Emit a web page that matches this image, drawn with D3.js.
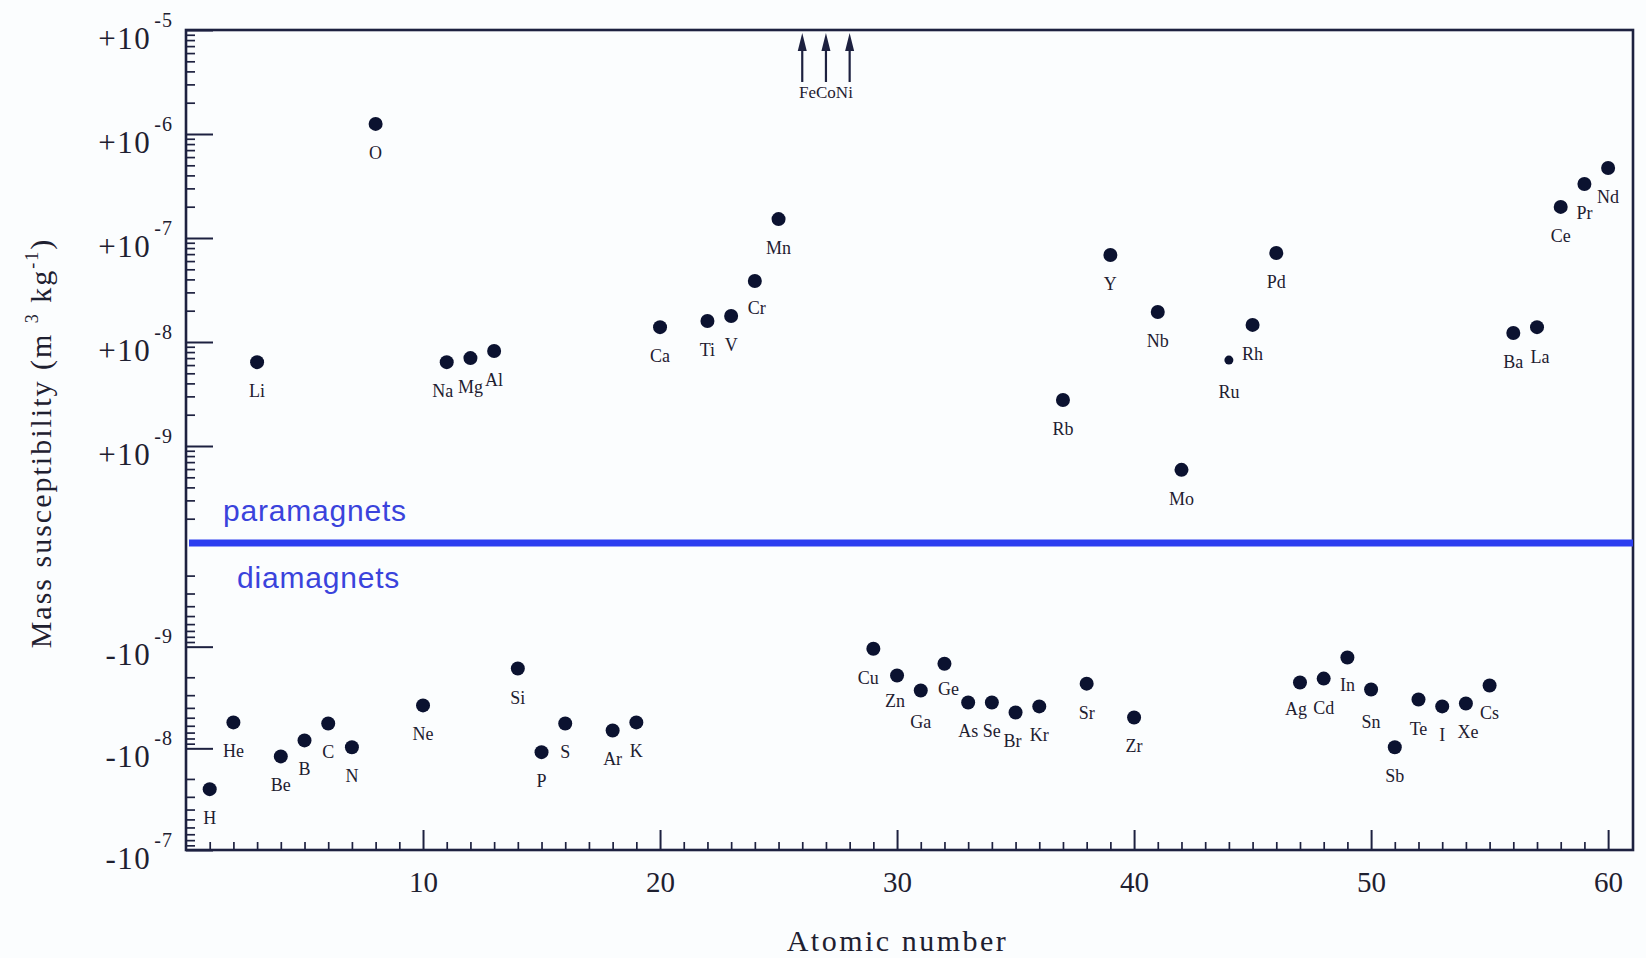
<!DOCTYPE html>
<html><head><meta charset="utf-8">
<script src="https://cdn.jsdelivr.net/npm/d3@7"></script>
<style>
html,body{margin:0;padding:0;background:#fbfdfe;}
svg{display:block;}
</style></head>
<body>
<svg id="chart" width="1646" height="958"></svg>
<script>
// ---------------- data ----------------
const paraSymbols = ["Li","O","Na","Mg","Al","Ca","Ti","V","Cr","Mn","Rb","Y","Nb","Mo","Ru","Rh","Pd","Ba","La","Ce","Pr","Nd"];
const paraZ       = [3,8,11,12,13,20,22,23,24,25,37,39,41,42,44,45,46,56,57,58,59,60];
const paraChi     = [6.4e-9,1.25e-6,6.4e-9,7.0e-9,8.2e-9,1.39e-8,1.59e-8,1.78e-8,3.86e-8,1.52e-7,2.77e-9,6.87e-8,1.94e-8,5.9e-10,6.7e-9,1.46e-8,7.18e-8,1.22e-8,1.39e-8,1.99e-7,3.30e-7,4.71e-7];

const diaSymbols = ["H","He","Be","B","C","N","Ne","Si","P","S","Ar","K","Cu","Zn","Ga","Ge","As","Se","Br","Kr","Sr","Zr","Ag","Cd","In","Sn","Sb","Te","I","Xe","Cs"];
const diaZ       = [1,2,4,5,6,7,10,14,15,16,18,19,29,30,31,32,33,34,35,36,38,40,47,48,49,50,51,52,53,54,55];
const diaChi     = [-2.52e-8,-5.56e-9,-1.20e-8,-8.36e-9,-5.69e-9,-9.77e-9,-3.78e-9,-1.64e-9,-1.09e-8,-5.69e-9,-6.67e-9,-5.56e-9,
                    -1.05e-9,-1.92e-9,-2.70e-9,-1.47e-9,-3.54e-9,-3.54e-9,-4.44e-9,-3.87e-9,-2.31e-9,-4.97e-9,
                    -2.25e-9,-2.06e-9,-1.28e-9,-2.64e-9,-9.77e-9,-3.31e-9,-3.87e-9,-3.62e-9,-2.41e-9];

const ferroSymbols = ["Fe","Co","Ni"];
const ferroZ       = [26,27,28];

const xTickValues   = [10,20,30,40,50,60];
const posTickValues = [1e-9,1e-8,1e-7,1e-6,1e-5];
const negTickValues = [1e-9,1e-8,1e-7];   // magnitudes of the negative ticks
const regionLabels  = ["paramagnets","diamagnets"];
const xTitle = "Atomic number";

// ---------------- layout / style ----------------
const L = 186, R = 1633, T = 30, B = 850;
const ink = "#1d2140", textColor = "#1e2030", dotColor = "#0b1230";
const blueLine = "#2c3ef0", blueText = "#3a43dc";
const serif = "'Liberation Serif','Times New Roman',serif";
const sans = "'Liberation Sans',Arial,sans-serif";

const svg = d3.select("#chart");

const x = d3.scaleLinear().domain([0, 61.05]).range([L, R]);
const yPos = d3.scaleLog().domain([1e-10, 1e-5]).range([550, T]);
const yNeg = d3.scaleLog().domain([1e-10, 1e-7]).range([545, B]);
const y = v => v > 0 ? yPos(v) : yNeg(-v);

const minorOf = (lo, hi) => { const a = []; for (let e = lo; e < hi; e++) for (let k = 2; k <= 9; k++) a.push(k * Math.pow(10, e)); return a; };

// frame
svg.append("rect").attr("x", L).attr("y", T).attr("width", R - L).attr("height", B - T)
  .attr("fill", "none").attr("stroke", ink).attr("stroke-width", 2.6);

function styleTicks(g, w) {
  g.select(".domain").remove();
  g.selectAll(".tick line").attr("stroke", ink).attr("stroke-width", w);
}
function expLabels(g, sign) {
  g.selectAll(".tick text").each(function (d) {
    const e = Math.round(Math.log10(d));
    const t = d3.select(this).text(null).attr("dy", null).attr("x", -13).attr("y", 18)
      .attr("fill", textColor).attr("text-anchor", "end")
      .style("font-family", serif).style("font-size", "31px").style("letter-spacing", "1.5px");
    t.append("tspan").text(sign + "10");
    t.append("tspan").attr("dx", 3).attr("dy", -22).style("font-size", "20px").style("letter-spacing", "1px").text(String(e));
  });
}

// upper (positive) y axis
svg.append("g").attr("transform", `translate(${L},0)`)
  .call(d3.axisLeft(yPos).tickValues(minorOf(-10, -5)).tickSize(-9).tickFormat(""))
  .call(g => styleTicks(g, 1.7));
svg.append("g").attr("transform", `translate(${L},0)`)
  .call(d3.axisLeft(yPos).tickValues(posTickValues).tickSize(-27).tickPadding(13))
  .call(g => styleTicks(g, 2))
  .call(g => expLabels(g, "+"));

// lower (negative) y axis
svg.append("g").attr("transform", `translate(${L},0)`)
  .call(d3.axisLeft(yNeg).tickValues(minorOf(-10, -7)).tickSize(-9).tickFormat(""))
  .call(g => styleTicks(g, 1.7));
svg.append("g").attr("transform", `translate(${L},0)`)
  .call(d3.axisLeft(yNeg).tickValues(negTickValues).tickSize(-27).tickPadding(13))
  .call(g => styleTicks(g, 2))
  .call(g => expLabels(g, "-"));

// x axis
svg.append("g").attr("transform", `translate(0,${B})`)
  .call(d3.axisBottom(x).tickValues(d3.range(1, 61).filter(d => d % 10)).tickSize(-8).tickFormat(""))
  .call(g => styleTicks(g, 1.7));
svg.append("g").attr("transform", `translate(0,${B})`)
  .call(d3.axisBottom(x).tickValues(xTickValues).tickSize(-20).tickPadding(21).tickFormat(d3.format("d")))
  .call(g => styleTicks(g, 2))
  .call(g => g.selectAll(".tick text").attr("fill", textColor)
    .style("font-family", serif).style("font-size", "29px"));

// separator line and region labels
const sepY = yNeg(1e-10) - 2;
svg.append("line").attr("x1", L + 3).attr("x2", R).attr("y1", sepY).attr("y2", sepY)
  .attr("stroke", blueLine).attr("stroke-width", 7);
svg.append("text").attr("x", L + 37).attr("y", sepY - 22).text(regionLabels[0])
  .attr("fill", blueText).style("font-family", sans).style("font-size", "30px").style("letter-spacing", "0.8px");
svg.append("text").attr("x", L + 51).attr("y", sepY + 45).text(regionLabels[1])
  .attr("fill", blueText).style("font-family", sans).style("font-size", "30px").style("letter-spacing", "0.8px");

// points
const pts = paraSymbols.map((s, i) => ({ s, z: paraZ[i], v: paraChi[i] }))
  .concat(diaSymbols.map((s, i) => ({ s, z: diaZ[i], v: diaChi[i] })));
const smallDot = { Ru: 4.5 };
svg.append("g").selectAll("circle").data(pts).join("circle")
  .attr("cx", d => x(d.z)).attr("cy", d => y(d.v)).attr("r", d => smallDot[d.s] || 7)
  .attr("fill", dotColor);

const labelNudge = { Na: [-4, 0], Cr: [2, -2], Cu: [-5, 0], Zn: [-2, -3], Ga: [0, 2], Ge: [4, -4], Br: [-3, 0],
  Ru: [0, 3], La: [3, 1], Ag: [-4, -2], In: [0, -2], Sn: [0, 3], Xe: [2, 0], Cs: [0, -2] };
svg.append("g").selectAll("text").data(pts).join("text")
  .attr("x", d => x(d.z) + (labelNudge[d.s] ? labelNudge[d.s][0] : 0))
  .attr("y", d => y(d.v) + 35 + (labelNudge[d.s] ? labelNudge[d.s][1] : 0))
  .attr("text-anchor", "middle").attr("fill", textColor)
  .style("font-family", serif).style("font-size", "18px")
  .text(d => d.s);

// ferromagnets: off-scale arrows
const fg = svg.append("g");
ferroZ.forEach(z => {
  const cx = x(z);
  fg.append("line").attr("x1", cx).attr("x2", cx).attr("y1", T + 52).attr("y2", T + 18)
    .attr("stroke", ink).attr("stroke-width", 2.2);
  fg.append("path").attr("d", `M${cx},${T + 3} L${cx - 4.5},${T + 21} L${cx + 4.5},${T + 21} Z`).attr("fill", ink);
});
fg.append("text").attr("x", x(d3.mean(ferroZ))).attr("y", T + 68).attr("text-anchor", "middle")
  .attr("fill", textColor).style("font-family", serif).style("font-size", "17px")
  .text(ferroSymbols.join(""));

// axis titles
svg.append("text").attr("x", (L + R) / 2 - 12).attr("y", 951).attr("text-anchor", "middle")
  .attr("fill", textColor).style("font-family", serif).style("font-size", "30px").style("letter-spacing", "2.5px")
  .text(xTitle);

const yt = svg.append("text").attr("transform", "translate(51,443) rotate(-90)").attr("text-anchor", "middle")
  .attr("fill", textColor).style("font-family", serif).style("font-size", "30px").style("letter-spacing", "2px");
yt.append("tspan").text("Mass susceptibility (m ");
yt.append("tspan").attr("dy", -13).style("font-size", "18px").text("3");
yt.append("tspan").attr("dy", 13).text(" kg");
yt.append("tspan").attr("dy", -13).style("font-size", "18px").text("-1");
yt.append("tspan").attr("dy", 13).text(")");
</script>
</body></html>
